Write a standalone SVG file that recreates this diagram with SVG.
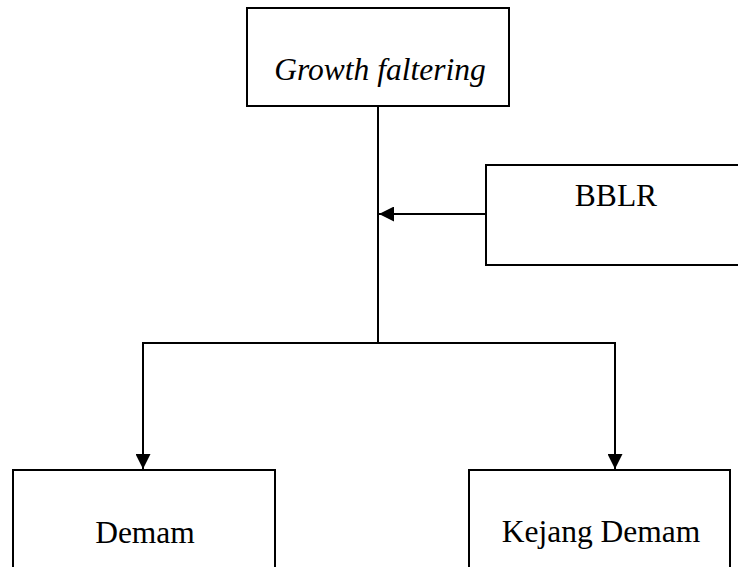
<svg xmlns="http://www.w3.org/2000/svg" width="738" height="567" viewBox="0 0 738 567">
<defs>
<style>
.box{fill:#fff;stroke:#000;stroke-width:2}
.lbl{font-family:"Liberation Serif","Times New Roman",serif;font-size:31.5px;fill:#000;text-anchor:middle}
.ln{fill:none;stroke:#000;stroke-width:2}
</style>
<marker id="ah" viewBox="0 0 10 10" refX="10" refY="5" markerWidth="15" markerHeight="15" markerUnits="userSpaceOnUse" orient="auto">
<path d="M0,0 L10,5 L0,10 Z" fill="#000"/>
</marker>
</defs>
<rect width="738" height="567" fill="#fff"/>
<g id="connectors">
<polyline class="ln" points="378,107 378,343"/>
<line class="ln" x1="486" y1="214" x2="379" y2="214" marker-end="url(#ah)"/>
<polyline class="ln" points="378,343 143,343 143,469" marker-end="url(#ah)"/>
<polyline class="ln" points="378,343 615,343 615,469" marker-end="url(#ah)"/>
</g>
<g id="growth">
<rect class="box" x="247" y="8" width="262" height="98"/>
<text class="lbl" x="380" y="80" font-style="italic">Growth faltering</text>
</g>
<g id="bblr">
<rect class="box" x="486" y="165" width="260" height="100"/>
<text class="lbl" x="616" y="206">BBLR</text>
</g>
<g id="demam">
<rect class="box" x="13" y="470" width="262" height="110"/>
<text class="lbl" x="145" y="543">Demam</text>
</g>
<g id="kejang">
<rect class="box" x="469" y="470" width="261" height="110"/>
<text class="lbl" x="601" y="542">Kejang Demam</text>
</g>
</svg>
